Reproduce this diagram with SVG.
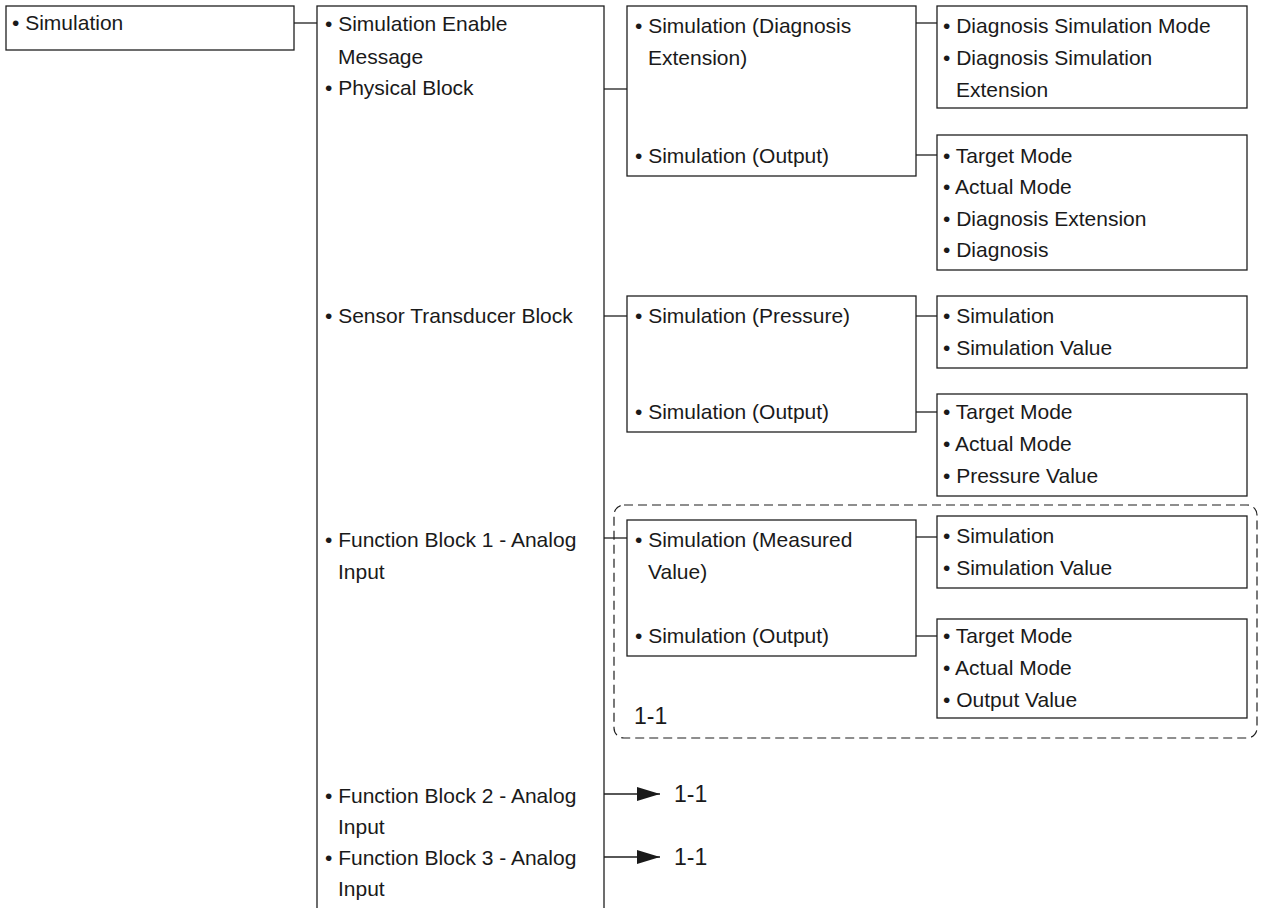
<svg xmlns="http://www.w3.org/2000/svg" width="1261" height="908" viewBox="0 0 1261 908">
<defs>
<style>
.box{fill:#fff;stroke:#1f1f1f;stroke-width:1.3}
.ln{fill:none;stroke:#1f1f1f;stroke-width:1.3}
.dash{fill:none;stroke:#1f1f1f;stroke-width:1.2;stroke-dasharray:9 5}
text{font-family:"Liberation Sans",Arial,sans-serif;font-size:21px;fill:#1a1a1a}
.big{font-size:23px}
</style>
<marker id="arr" markerWidth="24" markerHeight="14" refX="23" refY="7" orient="auto" markerUnits="userSpaceOnUse">
<path d="M0,0 L23,7 L0,14 z" fill="#1a1a1a"/>
</marker>
</defs>
<rect width="1261" height="908" fill="#fff"/>
<rect class="dash" x="614" y="505" width="643" height="233" rx="10"/>
<g id="connectors">
<line class="ln" x1="294" y1="23" x2="317" y2="23"/>
<line class="ln" x1="604" y1="89" x2="627" y2="89"/>
<line class="ln" x1="916" y1="23" x2="937" y2="23"/>
<line class="ln" x1="916" y1="155" x2="937" y2="155"/>
<line class="ln" x1="604" y1="316" x2="627" y2="316"/>
<line class="ln" x1="916" y1="316" x2="937" y2="316"/>
<line class="ln" x1="916" y1="412" x2="937" y2="412"/>
<line class="ln" x1="604" y1="538" x2="627" y2="538"/>
<line class="ln" x1="916" y1="537" x2="937" y2="537"/>
<line class="ln" x1="916" y1="636" x2="937" y2="636"/>
<line class="ln" x1="604" y1="794" x2="660" y2="794" marker-end="url(#arr)"/>
<line class="ln" x1="604" y1="857" x2="660" y2="857" marker-end="url(#arr)"/>
</g>
<g id="n-sim"><rect class="box" x="6" y="6" width="288" height="44"/><text x="12" y="30">• Simulation</text></g>
<g id="n-blocks"><rect class="box" x="317" y="6" width="287" height="910"/>
<text x="325" y="31">• Simulation Enable</text>
<text x="338" y="64">Message</text>
<text x="325" y="95">• Physical Block</text>
<text x="325" y="323">• Sensor Transducer Block</text>
<text x="325" y="547">• Function Block 1 - Analog</text>
<text x="338" y="579">Input</text>
<text x="325" y="803">• Function Block 2 - Analog</text>
<text x="338" y="834">Input</text>
<text x="325" y="865">• Function Block 3 - Analog</text>
<text x="338" y="896">Input</text>
</g>
<g id="n-pb-sim"><rect class="box" x="627" y="6" width="289" height="170"/>
<text x="635" y="33">• Simulation (Diagnosis</text>
<text x="648" y="65">Extension)</text>
<text x="635" y="163">• Simulation (Output)</text>
</g>
<g id="n-pb-diag"><rect class="box" x="937" y="6" width="310" height="102"/>
<text x="943" y="33">• Diagnosis Simulation Mode</text>
<text x="943" y="65">• Diagnosis Simulation</text>
<text x="956" y="97">Extension</text>
</g>
<g id="n-pb-out"><rect class="box" x="937" y="135" width="310" height="135"/>
<text x="943" y="163">• Target Mode</text>
<text x="943" y="194">• Actual Mode</text>
<text x="943" y="226">• Diagnosis Extension</text>
<text x="943" y="257">• Diagnosis</text>
</g>
<g id="n-st-sim"><rect class="box" x="627" y="296" width="289" height="136"/>
<text x="635" y="323">• Simulation (Pressure)</text>
<text x="635" y="419">• Simulation (Output)</text>
</g>
<g id="n-st-press"><rect class="box" x="937" y="296" width="310" height="72"/>
<text x="943" y="323">• Simulation</text>
<text x="943" y="355">• Simulation Value</text>
</g>
<g id="n-st-out"><rect class="box" x="937" y="394" width="310" height="102"/>
<text x="943" y="419">• Target Mode</text>
<text x="943" y="451">• Actual Mode</text>
<text x="943" y="483">• Pressure Value</text>
</g>
<g id="n-fb-sim"><rect class="box" x="627" y="520" width="289" height="136"/>
<text x="635" y="547">• Simulation (Measured</text>
<text x="648" y="579">Value)</text>
<text x="635" y="643">• Simulation (Output)</text>
</g>
<g id="n-fb-meas"><rect class="box" x="937" y="516" width="310" height="72"/>
<text x="943" y="543">• Simulation</text>
<text x="943" y="575">• Simulation Value</text>
</g>
<g id="n-fb-out"><rect class="box" x="937" y="619" width="310" height="99"/>
<text x="943" y="643">• Target Mode</text>
<text x="943" y="675">• Actual Mode</text>
<text x="943" y="707">• Output Value</text>
</g>
<g id="labels">
<text class="big" x="634" y="724">1-1</text>
<text class="big" x="674" y="802">1-1</text>
<text class="big" x="674" y="865">1-1</text>
</g>
</svg>
